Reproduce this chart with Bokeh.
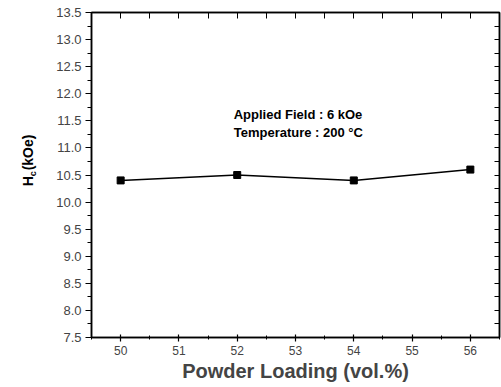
import math
from bokeh.plotting import figure
from bokeh.layouts import row
from bokeh.models import (LinearAxis, SingleIntervalTicker, Range1d, Label,
                          PrintfTickFormatter)
from bokeh.core.properties import value
from bokeh.embed import file_html
from bokeh.resources import INLINE

# ---- data ----
loading = [50, 52, 54, 56]          # Powder Loading (vol.%)
hc = [10.4, 10.5, 10.4, 10.6]      # Hc (kOe)
note_lines = ["Applied Field : 6 kOe", "Temperature  : 200 \u00b0C"]
y_title_parts = ["H", "c", "(kOe)"]

FONT = "Liberation Sans"
LEFT_W = 40

# ---- narrow strip holding the rotated y-axis title (real text) ----
lab = figure(width=LEFT_W, height=387, output_backend="svg",
             toolbar_location=None, x_range=Range1d(0, LEFT_W),
             y_range=Range1d(387, 0), min_border=0,
             x_axis_location=None, y_axis_location=None,
             outline_line_color=None, background_fill_color="white",
             border_fill_color="white")
lab.xgrid.visible = False
lab.ygrid.visible = False
AX, AY = 27, 207   # anchor of the title start
lab.text(x=[AX], y=[AY], text=[y_title_parts[0]], angle=math.pi / 2,
         text_font=value(FONT), text_font_style="bold", text_font_size="14px",
         text_baseline="alphabetic", text_align="left", text_color="black")
lab.text(x=[AX], y=[AY], text=[y_title_parts[1]], angle=math.pi / 2,
         x_offset=5, y_offset=-10,
         text_font=value(FONT), text_font_style="bold", text_font_size="9px",
         text_baseline="alphabetic", text_align="left", text_color="black")
lab.text(x=[AX], y=[AY], text=[y_title_parts[2]], angle=math.pi / 2,
         y_offset=-16,
         text_font=value(FONT), text_font_style="bold", text_font_size="14px",
         text_baseline="alphabetic", text_align="left", text_color="black")

# ---- main plot ----
p = figure(width=501 - LEFT_W, height=387, output_backend="svg",
           toolbar_location=None,
           x_range=Range1d(49.5, 56.5), y_range=Range1d(7.5, 13.5),
           min_border_left=91 - LEFT_W, min_border_right=2, min_border_top=12,
           min_border_bottom=50, background_fill_color="white",
           border_fill_color="white", outline_line_color="black",
           outline_line_width=1.5)
p.xgrid.visible = False
p.ygrid.visible = False

p.line(loading, hc, line_color="black", line_width=1.5)
p.scatter(loading, hc, marker="square", size=7, fill_color="black",
          line_color="black")

# bottom axis
xa = p.xaxis[0]
xa.ticker = SingleIntervalTicker(interval=1, num_minor_ticks=2)
xa.axis_label = "Powder Loading (vol.%)"
xa.axis_label_text_font = FONT
xa.axis_label_text_font_style = "bold"
xa.axis_label_text_font_size = "20px"
xa.axis_label_standoff = 2
xa.major_label_text_font = FONT
xa.major_label_text_font_size = "12px"
xa.major_label_standoff = 4
xa.major_tick_in = 3
xa.major_tick_out = 4
xa.minor_tick_in = 2
xa.minor_tick_out = 2
xa.axis_line_width = 1.5
xa.major_tick_line_width = 1.2

# left axis
ya = p.yaxis[0]
ya.ticker = SingleIntervalTicker(interval=0.5, num_minor_ticks=2)
ya.formatter = PrintfTickFormatter(format="%.1f")
ya.major_label_text_font = FONT
ya.major_label_text_font_size = "13px"
ya.major_label_standoff = 4
ya.major_tick_in = 0
ya.major_tick_out = 6
ya.minor_tick_in = 0
ya.minor_tick_out = 4
ya.axis_line_width = 1.5
ya.major_tick_line_width = 1.2

# top axis (mirror ticks, inside, no labels)
ta = LinearAxis(ticker=SingleIntervalTicker(interval=0.5, num_minor_ticks=0),
                major_label_text_color=None, major_label_standoff=0,
                major_tick_in=6, major_tick_out=0, minor_tick_in=0,
                minor_tick_out=0, axis_line_width=1.5)
p.add_layout(ta, "above")

# right axis (mirror ticks, inside, no labels)
ra = LinearAxis(ticker=SingleIntervalTicker(interval=0.25, num_minor_ticks=0),
                major_label_text_color=None, major_label_standoff=0,
                major_tick_in=5, major_tick_out=0, minor_tick_in=0,
                minor_tick_out=0, axis_line_width=1.5)
p.add_layout(ra, "right")

# annotation text
for i, t in enumerate(note_lines):
    p.add_layout(Label(x=51.94, y=11.62 - 0.34 * i, text=t,
                       text_font=FONT, text_font_style="bold",
                       text_font_size="13px", text_baseline="middle",
                       text_align="left", text_color="black"))

layout = row(lab, p, spacing=0)
open("out.html", "w").write(file_html(layout, INLINE))
